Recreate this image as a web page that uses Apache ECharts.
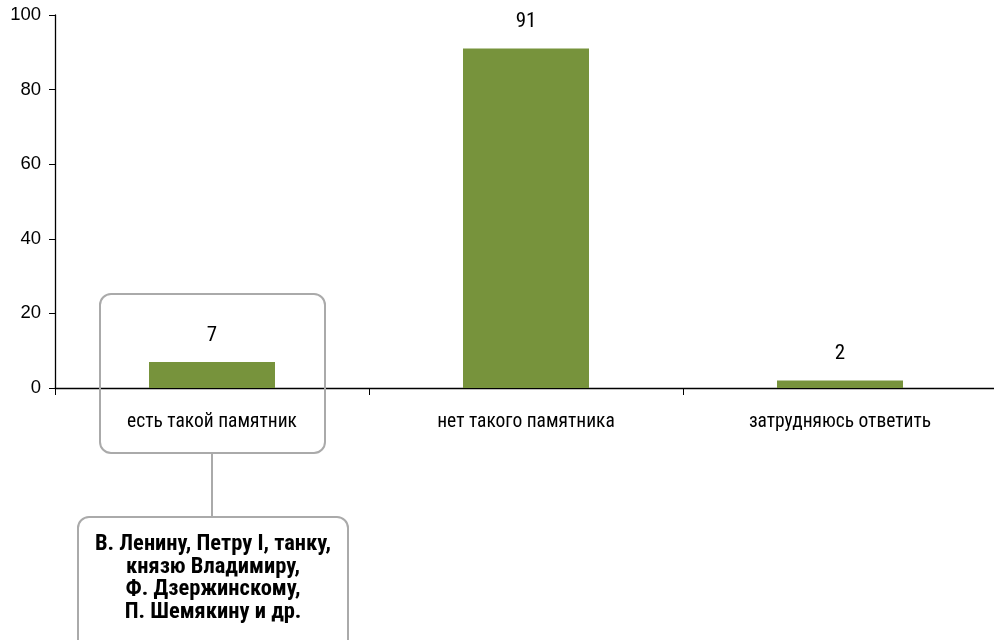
<!DOCTYPE html>
<html><head><meta charset="utf-8">
<script src="https://cdn.jsdelivr.net/npm/echarts@6/dist/echarts.min.js"></script>
<style>html,body{margin:0;padding:0;background:#fff;overflow:hidden}#c{width:1000px;height:640px}</style>
</head><body><div id="c"></div>
<script>
const categories = ['есть такой памятник', 'нет такого памятника', 'затрудняюсь ответить'];
const values = [7, 91, 2];
const yTicks = [0, 20, 40, 60, 80, 100];
const noteText = ['В. Ленину, Петру I, танку,', 'князю Владимиру,', 'Ф. Дзержинскому,', 'П. Шемякину и др.'];

const FONT = '"Roboto Condensed", "Liberation Sans Narrow", "Noto Sans", sans-serif';
const chart = echarts.init(document.getElementById('c'));
chart.setOption({
  animation: false,
  grid: { left: 55, right: 3, top: 15, bottom: 252 },
  xAxis: {
    type: 'category', data: categories,
    axisLine: { lineStyle: { color: '#000', width: 1.3 } },
    axisTick: { show: true, length: 7, lineStyle: { color: '#000' } },
    axisLabel: { color: '#000', fontSize: 19.5, fontFamily: FONT, margin: 24 }
  },
  yAxis: {
    type: 'value', min: yTicks[0], max: yTicks[yTicks.length - 1], interval: 20,
    axisLine: { show: true, lineStyle: { color: '#000', width: 1.3 } },
    axisTick: { show: true, length: 6, lineStyle: { color: '#000' } },
    splitLine: { show: false },
    axisLabel: { color: '#000', fontSize: 18.5, fontFamily: '"Liberation Sans", Arial, sans-serif', margin: 14 }
  },
  series: [{
    type: 'bar', data: values, barWidth: 126,
    itemStyle: { color: '#77933C' },
    label: { show: true, position: 'top', distance: 16, color: '#000', fontSize: 21, fontFamily: FONT }
  }]
});

function drawNotes() {
  const c = chart.convertToPixel({ xAxisIndex: 0 }, categories[0]);
  chart.setOption({
    graphic: [
      { type: 'rect', shape: { x: c - 112, y: 294, width: 225, height: 159, r: 11 },
        style: { fill: 'none', stroke: '#aaaaaa', lineWidth: 2 }, z: 10 },
      { type: 'line', shape: { x1: c, y1: 453, x2: c, y2: 517 },
        style: { stroke: '#aaaaaa', lineWidth: 2 }, z: 10 },
      { type: 'rect', shape: { x: c - 134, y: 517, width: 270, height: 140, r: 11 },
        style: { fill: '#fff', stroke: '#aaaaaa', lineWidth: 2 }, z: 10 },
      { type: 'text', x: c + 1, y: 533, z: 11,
        style: { text: noteText.join('\n'), fill: '#000', font: 'bold 22.5px ' + FONT,
                 align: 'center', verticalAlign: 'top', lineHeight: 22.7 } }
    ]
  });
}
drawNotes();
</script></body></html>
